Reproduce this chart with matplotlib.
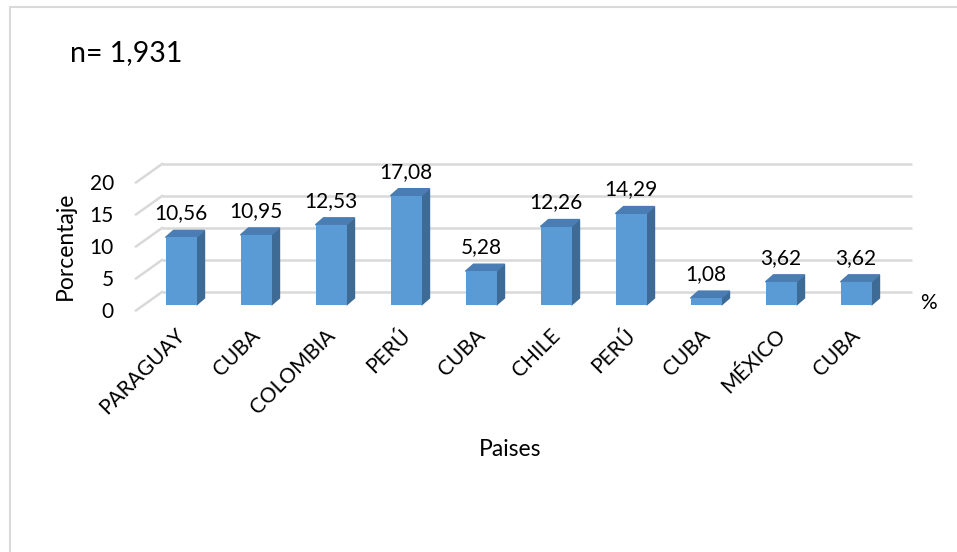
import matplotlib.pyplot as plt
from matplotlib.patches import Polygon
from matplotlib.lines import Line2D

plt.rcParams['font.family'] = ['Lato', 'DejaVu Sans']

# data
paises = ['PARAGUAY', 'CUBA', 'COLOMBIA', 'PERÚ', 'CUBA', 'CHILE', 'PERÚ', 'CUBA', 'MÉXICO', 'CUBA']
porcentaje = [10.56, 10.95, 12.53, 17.08, 5.28, 12.26, 14.29, 1.08, 3.62, 3.62]
etiquetas = ['10,56', '10,95', '12,53', '17,08', '5,28', '12,26', '14,29', '1,08', '3,62', '3,62']
y_ticks = [0, 5, 10, 15, 20]

W, H = 957, 552
fig = plt.figure(figsize=(W / 100, H / 100), dpi=100)

# axes placed in pixels: front of bars, 75 px per category, 6.4 px per unit
px_x, px_y = 75.0, 6.4
x0_px, y0_px = 181.0, 305.0
L, R, T, B = 120, 935, 140, 320
ax = fig.add_axes([L / W, (H - B) / H, (R - L) / W, (B - T) / H])
ax.set_xlim((L - x0_px) / px_x, (R - x0_px) / px_x)
ax.set_ylim((y0_px - B) / px_y, (y0_px - T) / px_y)
ax.axis('off')

grid_c = '#d9d9d9'
front_c = '#5b9bd5'
side_c = '#3e6b95'
top_c = '#4a7db3'
fs = 15

# back wall gridlines + left side wall diagonals
bx0, bx1 = (162 - x0_px) / px_x, (912 - x0_px) / px_x
back_dy = 13 / px_y
fx = (136 - x0_px) / px_x
front_dy = -5.5 / px_y
for t in y_ticks:
    ax.plot([bx0, bx1], [t + back_dy, t + back_dy], color=grid_c, lw=1.8,
            solid_capstyle='butt', clip_on=False, zorder=1)
    ax.plot([fx, bx0], [t + front_dy, t + back_dy], color=grid_c, lw=1.8,
            clip_on=False, zorder=1)
    ax.text((114 - x0_px) / px_x, t + front_dy - 0.2, str(t), ha='right', va='center',
            fontsize=fs)

# 3D bars
w = 31 / px_x
dx, dy = 8 / px_x, 7 / px_y
xs = list(range(len(paises)))
ax.bar(xs, porcentaje, width=w, color=front_c, zorder=3, clip_on=False)
for x, v in zip(xs, porcentaje):
    side = [(x + w / 2, 0), (x + w / 2 + dx, dy), (x + w / 2 + dx, v + dy), (x + w / 2, v)]
    top = [(x - w / 2, v), (x + w / 2, v), (x + w / 2 + dx, v + dy), (x - w / 2 + dx, v + dy)]
    ax.add_patch(Polygon(side, closed=True, color=side_c, zorder=2, clip_on=False))
    ax.add_patch(Polygon(top, closed=True, color=top_c, zorder=2, clip_on=False))

for x, v, s in zip(xs, porcentaje, etiquetas):
    ax.text(x, v + 24 / px_y, s, ha='center', va='center', fontsize=fs)

for x, s in zip(xs, paises):
    ax.text(x - 6 / px_x, (y0_px - 325) / px_y, s, rotation=45, ha='right', va='top',
            rotation_mode='anchor', fontsize=fs)

ax.text((928 - x0_px) / px_x, (y0_px - 303) / px_y, '%', ha='center', va='center', fontsize=fs)

fig.text(65 / W, 1 - 246 / H, 'Porcentaje', rotation=90, ha='center', va='center', fontsize=16.5)
fig.text(510 / W, 1 - 450 / H, 'Paises', ha='center', va='center', fontsize=16.5)
fig.text(70 / W, 1 - 53 / H, 'n= 1,931', ha='left', va='center', fontsize=20.5)

# chart border
fig.add_artist(Line2D([10 / W, 10 / W], [0, 1 - 7 / H], color=grid_c, lw=1.5))
fig.add_artist(Line2D([10 / W, 1], [1 - 7 / H, 1 - 7 / H], color=grid_c, lw=1.5))

fig.savefig('out.png', dpi=100)
